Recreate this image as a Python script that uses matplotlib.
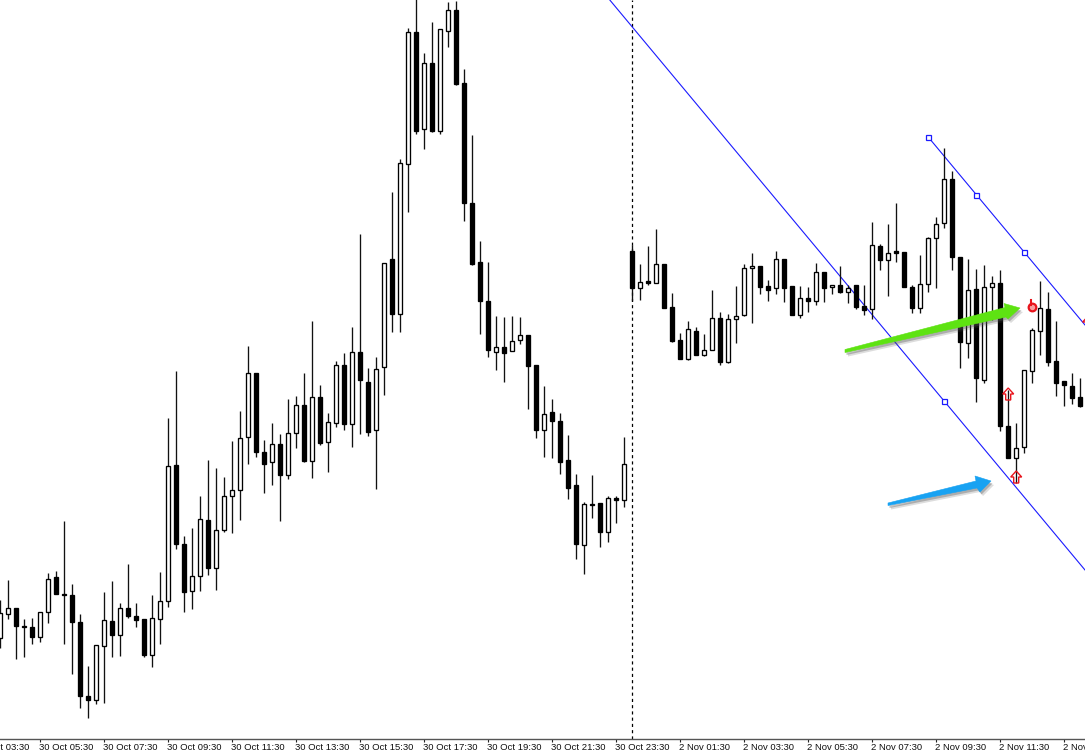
"""M15 candlestick chart with a falling channel and two highlight arrows."""
import matplotlib

matplotlib.use("Agg")
import matplotlib.pyplot as plt
from matplotlib.patches import Polygon

# levels are read straight off the picture: the chart has no price scale, so
# the y axis simply runs downward from the top edge of the plot
candle_color = (
    "WWBBBWWBBB" "BBWWBWBBBW" "WWBBWWBWWW" "WWBBWBWWBW" "BWWBWBBWWB"
    "WWBWBWWBBB" "BBWBWWBBWB" "BBBWBBWBWB" "WBWBBBWBWW" "BWWWWBBWBB"
    "WBWBWBWBBW" "BWBBBWWWWB" "BWBWWBBWWW" "WBBBBB"
)
body_top = [
    613, 608, 608, 626, 627, 612, 579, 577, 594, 595,
    622, 696, 645, 620, 621, 608, 608, 616, 619, 618,
    601, 466, 465, 544, 576, 519, 520, 530, 496, 490,
    438, 373, 373, 452, 444, 444, 433, 405, 405, 397,
    397, 422, 365, 365, 352, 352, 382, 369, 263, 259,
    163, 32, 32, 63, 63, 29, 10, 10, 83, 203,
    262, 301, 347, 347, 341, 335, 335, 365, 414, 412,
    421, 460, 485, 504, 504, 503, 498, 498, 464, 251,
    282, 281, 264, 264, 307, 340, 329, 331, 350, 318,
    318, 319, 316, 268, 266, 266, 286, 259, 259, 286,
    298, 298, 272, 272, 285, 285, 288, 285, 306, 245,
    246, 253, 251, 252, 287, 284, 238, 224, 179, 179,
    257, 290, 289, 287, 283, 283, 426, 448, 370, 330,
    308, 309, 361, 381, 386, 397,
]
body_bottom = [
    638, 614, 626, 627, 637, 637, 612, 594, 595, 622,
    696, 700, 700, 646, 635, 635, 616, 620, 655, 655,
    619, 601, 544, 592, 591, 576, 568, 568, 530, 496,
    490, 437, 452, 464, 462, 475, 475, 433, 461, 461,
    443, 442, 423, 424, 424, 380, 432, 430, 367, 314,
    314, 164, 131, 129, 131, 131, 31, 84, 203, 264,
    301, 350, 352, 353, 351, 340, 366, 430, 430, 421,
    462, 488, 544, 545, 505, 532, 532, 500, 500, 288,
    288, 283, 283, 308, 341, 359, 359, 355, 355, 350,
    362, 362, 319, 315, 268, 287, 290, 288, 288, 315,
    315, 301, 301, 288, 287, 292, 292, 307, 310, 309,
    260, 260, 253, 287, 308, 308, 284, 238, 223, 257,
    342, 343, 378, 380, 287, 426, 458, 458, 447, 371,
    331, 362, 383, 385, 398, 406,
]
wick_top = [
    600, 580, 608, 619, 618, 612, 573, 571, 521, 584,
    614, 666, 645, 592, 581, 603, 564, 603, 619, 595,
    572, 418, 371, 536, 528, 496, 460, 468, 477, 441,
    411, 346, 373, 440, 423, 434, 399, 396, 373, 321,
    385, 413, 361, 353, 327, 234, 368, 357, 263, 192,
    159, 28, -5, 53, 22, 29, 2, 1, 69, 135,
    241, 262, 316, 317, 316, 317, 335, 365, 386, 399,
    413, 435, 474, 502, 475, 503, 496, 496, 437, 245,
    264, 246, 229, 264, 293, 333, 321, 327, 334, 290,
    312, 314, 286, 264, 253, 266, 280, 251, 259, 286,
    286, 287, 263, 272, 285, 266, 285, 285, 285, 222,
    244, 224, 203, 252, 285, 255, 237, 217, 148, 171,
    257, 259, 269, 265, 276, 270, 390, 423, 370, 328,
    281, 292, 321, 381, 373, 378,
]
wick_bottom = [
    648, 619, 659, 657, 644, 642, 623, 594, 644, 674,
    708, 718, 704, 703, 657, 656, 618, 627, 657, 667,
    644, 607, 549, 612, 609, 591, 575, 590, 532, 533,
    520, 464, 457, 493, 485, 521, 479, 448, 462, 478,
    445, 472, 427, 430, 447, 434, 436, 489, 395, 332,
    332, 212, 134, 149, 132, 134, 47, 85, 221, 265,
    334, 357, 370, 382, 351, 344, 409, 438, 457, 458,
    474, 499, 559, 574, 518, 547, 542, 523, 507, 301,
    300, 285, 283, 308, 342, 359, 360, 355, 356, 350,
    365, 363, 343, 316, 323, 294, 301, 294, 302, 315,
    318, 312, 305, 302, 294, 293, 303, 309, 315, 319,
    270, 296, 262, 287, 313, 313, 292, 288, 228, 270,
    368, 358, 402, 383, 320, 431, 458, 483, 453, 383,
    355, 366, 396, 406, 404, 407,
]

tick_bars = [-3, 5, 13, 21, 29, 37, 45, 53, 61, 69, 77, 85, 93, 101, 109, 117, 125, 133]
tick_labels = [
    "30 Oct 03:30", "30 Oct 05:30", "30 Oct 07:30", "30 Oct 09:30", "30 Oct 11:30",
    "30 Oct 13:30", "30 Oct 15:30", "30 Oct 17:30", "30 Oct 19:30", "30 Oct 21:30",
    "30 Oct 23:30", "2 Nov 01:30", "2 Nov 03:30", "2 Nov 05:30", "2 Nov 07:30",
    "2 Nov 09:30", "2 Nov 11:30", "2 Nov 13:30",
]
session_break_bar = 79

# trend channel, bar number and level
lower_line_bars = [76.2, 135.6]
lower_line_levels = [0, 570]
upper_line_bars = [116, 135.6]
upper_line_levels = [137, 325]
handle_bars = [116, 122, 128, 118]
handle_levels = [137, 195, 252, 401]

signal_bars = [126, 127]
signal_levels = [394, 477]

# hand-drawn arrows, outlines in image pixels
green_arrow = [(845, 349.5), (1005, 307.5), (1004, 303.5), (1020, 308), (1008, 319), (1006, 317), (845, 352.5)]
blue_arrow = [(888, 503), (976, 481), (975, 476), (991, 481), (980, 492), (977, 488), (888, 505.5)]

PX_PER_BAR = 8
X_ORIGIN = 0.2
WIDTH, HEIGHT, AXIS_ROW = 1085, 754, 739


def bar_of(px):
    return (px - X_ORIGIN) / PX_PER_BAR


def draw_arrow(ax, outline, color):
    points = [(bar_of(x), y) for x, y in outline]
    for dx, dy, alpha in ((3, 4, 0.2), (1.5, 2.5, 0.35)):
        shadow = [(bar_of(x + dx), y + dy) for x, y in outline]
        ax.add_patch(Polygon(shadow, closed=True, fc="#555555", ec="none", alpha=alpha, zorder=6))
    ax.add_patch(Polygon(points, closed=True, fc=color, ec=color, lw=0.4, zorder=7))


def draw_up_arrow(ax, bar, level):
    # hollow red signal arrow, about 11 px wide and 12 px tall
    x = [-2.5, -2.5, -5.5, 0, 5.5, 2.5, 2.5]
    y = [6, 0, 0, -6, 0, 0, 6]
    outline = [(bar + dx / PX_PER_BAR, level + dy) for dx, dy in zip(x, y)]
    ax.add_patch(Polygon(outline, closed=True, fc="none", ec="#e8141c", lw=1.0, zorder=5))


plt.rcParams["font.family"] = ["Liberation Sans", "DejaVu Sans"]

fig = plt.figure(figsize=(WIDTH / 100, HEIGHT / 100), dpi=100, facecolor="white")
ax = fig.add_axes([0, (HEIGHT - AXIS_ROW) / HEIGHT, 1, AXIS_ROW / HEIGHT])
ax.set_xlim(bar_of(0), bar_of(WIDTH))
ax.set_ylim(AXIS_ROW, 0)

bars = list(range(len(candle_color)))
ax.axvline(session_break_bar, color="black", lw=0.9, ls=(0, (2.5, 2.5)), zorder=1)
ax.plot(lower_line_bars, lower_line_levels, color="#1a1aff", lw=0.8, zorder=2)
ax.plot(upper_line_bars, upper_line_levels, color="#1a1aff", lw=0.8, zorder=2)
ax.plot(handle_bars, handle_levels, ls="none", marker="s", ms=3.6, mfc="white", mec="#1a1aff", mew=0.9, zorder=4)

ax.vlines(bars, wick_top, wick_bottom, color="#111111", lw=0.95, zorder=3)
faces = ["white" if c == "W" else "black" for c in candle_color]
ax.bar(
    bars,
    [b - t for t, b in zip(body_top, body_bottom)],
    bottom=body_top,
    width=4 / PX_PER_BAR,
    color=faces,
    edgecolor="black",
    linewidth=0.95,
    zorder=3,
)

for bar, level in zip(signal_bars, signal_levels):
    draw_up_arrow(ax, bar, level)
draw_up_arrow(ax, 136, 322)

# red hand icon next to the green arrow
ax.plot([bar_of(1032)], [307], ls="none", marker="o", ms=5.5, mfc="#f7a0a0", mec="#e8141c", mew=1.6, zorder=5)
ax.plot([bar_of(1031), bar_of(1031)], [300, 305], color="#e8141c", lw=1.5, zorder=5)

draw_arrow(ax, green_arrow, "#5ee312")
draw_arrow(ax, blue_arrow, "#18a2f2")

for spine in ("top", "left", "right"):
    ax.spines[spine].set_visible(False)
ax.spines["bottom"].set_color("#555555")
ax.spines["bottom"].set_linewidth(1.0)
ax.set_yticks([])
ax.set_xticks(tick_bars[1:])
ax.set_xticklabels([])
ax.tick_params(axis="x", length=2.5, width=0.8, color="#222222")

for bar, label in zip(tick_bars, tick_labels):
    ax.text(bar - 0.17, 743.5, label, ha="left", va="top", fontsize=6.8, color="#111111", clip_on=False)

fig.savefig("out.png", dpi=100)
